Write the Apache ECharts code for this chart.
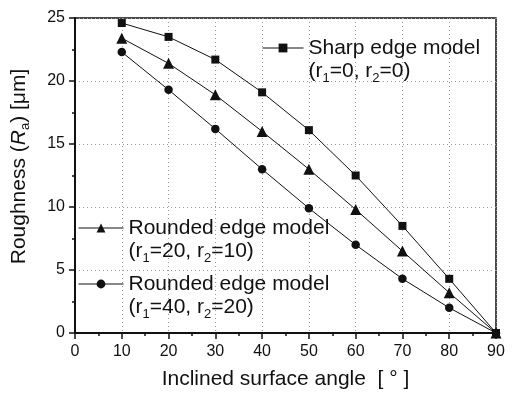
<!DOCTYPE html>
<html>
<head>
<meta charset="utf-8">
<script src="https://cdn.jsdelivr.net/npm/echarts@6/dist/echarts.min.js"></script>
<style>html,body{margin:0;padding:0;background:#fff;}#chart{width:514px;height:395px;}</style>
</head>
<body>
<div id="chart"></div>
<script>
const angles = [10, 20, 30, 40, 50, 60, 70, 80, 90];
const sharpEdge = [24.6, 23.5, 21.7, 19.1, 16.1, 12.5, 8.5, 4.3, 0];
const rounded20 = [23.4, 21.4, 18.9, 16.0, 13.0, 9.8, 6.5, 3.2, 0];
const rounded40 = [22.3, 19.3, 16.2, 13.0, 9.9, 7.0, 4.3, 2.0, 0];
const seriesNames = ['Sharp edge model', 'Rounded edge model A', 'Rounded edge model B'];
const legendLine1 = ['Sharp edge model', 'Rounded edge model', 'Rounded edge model'];
const legendLine2 = [['0', '0'], ['20', '10'], ['40', '20']];
const xTicks = { min: 0, max: 90, interval: 10 };
const yTicks = { min: 0, max: 25, interval: 5 };

const FONT = '"Liberation Sans", Arial, Helvetica, sans-serif';
const INK = '#111';

function pairs(vals) { return angles.map((a, i) => [a, vals[i]]); }

const richStyle = {
  t: { fontFamily: FONT, fontSize: 21, color: INK, lineHeight: 23 },
  s: { fontFamily: FONT, fontSize: 13, color: INK, lineHeight: 23, padding: [15, 0, 0, 0] }
};

function legendFmt(idx) {
  return function () {
    const p = legendLine2[idx];
    return '{t| }\n{t|' + legendLine1[idx] + '}\n{t|(r}{s|1}{t|=' + p[0] + ', r}{s|2}{t|=' + p[1] + ')}';
  };
}

function makeLegend(idx, left, centerY, iw) {
  return {
    data: [seriesNames[idx]],
    left: left, top: centerY - 34.5,
    padding: 0, itemWidth: iw, itemHeight: 11,
    orient: 'vertical',
    formatter: legendFmt(idx),
    lineStyle: { width: 1, color: INK },
    textStyle: { fontFamily: FONT, fontSize: 21, color: INK, lineHeight: 23, rich: richStyle },
    selectedMode: false
  };
}

const chart = echarts.init(document.getElementById('chart'), null, { renderer: 'canvas' });
const lineStyle = { color: INK, width: 1 };
chart.setOption({
  animation: false,
  backgroundColor: '#fff',
  grid: { left: 75, right: 18, top: 18, bottom: 60, show: true, borderColor: INK, borderWidth: 1.5, backgroundColor: 'transparent' },
  legend: [
    makeLegend(0, 262, 48, 41),
    makeLegend(1, 78, 228, 45),
    makeLegend(2, 78, 284, 45)
  ],
  xAxis: {
    type: 'value', min: xTicks.min, max: xTicks.max, interval: xTicks.interval,
    name: 'Inclined surface angle  [ ° ]', nameLocation: 'middle', nameGap: 36,
    nameTextStyle: { fontFamily: FONT, fontSize: 21, color: INK },
    axisLine: { show: true, lineStyle: { color: INK, width: 2 } },
    axisTick: { show: true, length: 6, lineStyle: { color: INK, width: 1.5 } },
    minorTick: { show: true, splitNumber: 2, length: 3, lineStyle: { color: INK, width: 1.5 } },
    axisLabel: { fontFamily: FONT, fontSize: 16, color: INK, margin: 11 },
    splitLine: { show: true, lineStyle: { color: '#999', type: [1, 3], width: 1 } }
  },
  yAxis: {
    type: 'value', min: yTicks.min, max: yTicks.max, interval: yTicks.interval,
    name: 'Roughness ({i|R}{sub|a}) [μm]', nameLocation: 'middle', nameGap: 43,
    nameTextStyle: {
      fontFamily: FONT, fontSize: 21, color: INK, padding: [0, 0, 0, 18],
      rich: {
        i: { fontFamily: FONT, fontSize: 21, fontStyle: 'italic', color: INK },
        sub: { fontFamily: FONT, fontSize: 13, color: INK, padding: [12, 0, 0, 0] }
      }
    },
    axisLine: { show: true, lineStyle: { color: INK, width: 2 } },
    axisTick: { show: true, length: 6, lineStyle: { color: INK, width: 1.5 } },
    minorTick: { show: true, splitNumber: 2, length: 3, lineStyle: { color: INK, width: 1.5 } },
    axisLabel: { fontFamily: FONT, fontSize: 16, color: INK, margin: 10 },
    splitLine: { show: true, lineStyle: { color: '#999', type: [1, 3], width: 1 } }
  },
  series: [
    { name: seriesNames[0], type: 'line', data: pairs(sharpEdge), symbol: 'rect', symbolSize: 8, lineStyle: lineStyle, itemStyle: { color: INK }, z: 3 },
    { name: seriesNames[1], type: 'line', data: pairs(rounded20), symbol: 'triangle', symbolSize: 11, lineStyle: lineStyle, itemStyle: { color: INK }, z: 3 },
    { name: seriesNames[2], type: 'line', data: pairs(rounded40), symbol: 'circle', symbolSize: 8.5, lineStyle: lineStyle, itemStyle: { color: INK }, z: 3 }
  ]
});
</script>
</body>
</html>
